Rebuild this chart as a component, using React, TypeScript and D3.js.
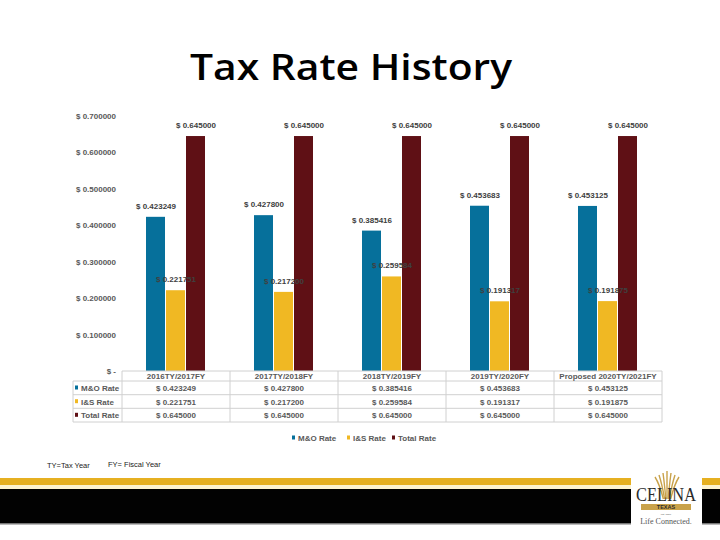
import * as d3 from "d3";
import { useEffect, useRef } from "react";

const categories = ["2016TY/2017FY", "2017TY/2018FY", "2018TY/2019FY", "2019TY/2020FY", "Proposed 2020TY/2021FY"];
const seriesNames = ["M&O Rate", "I&S Rate", "Total Rate"];
const moRate = [0.423249, 0.4278, 0.385416, 0.453683, 0.453125];
const isRate = [0.221751, 0.2172, 0.259584, 0.191317, 0.191875];
const totalRate = [0.645, 0.645, 0.645, 0.645, 0.645];
const yTicks = [0, 0.1, 0.2, 0.3, 0.4, 0.5, 0.6, 0.7];
const colors = ["#06709b", "#f0b823", "#5f1015"];

const fmt = (v: number) => (v === 0 ? "$ -" : "$ " + v.toFixed(6));

export default function App() {
  const ref = useRef<SVGSVGElement>(null);

  useEffect(() => {
    const svg = d3.select(ref.current);
    svg.selectAll("*").remove();
    const series = [moRate, isRate, totalRate];
    const font = "'Liberation Sans', Arial, sans-serif";
    const gray = "#595959";

    // title
    svg.append("text")
      .attr("x", 351).attr("y", 80)
      .attr("text-anchor", "middle")
      .attr("font-family", "'Open Sans', sans-serif")
      .attr("font-weight", 600)
      .attr("font-size", 36)
      .attr("textLength", 322)
      .attr("lengthAdjust", "spacingAndGlyphs")
      .text("Tax Rate History");

    const x = d3.scaleBand().domain(categories).range([122, 662]);
    const xs = d3.scaleBand().domain(seriesNames).range([24, 84]);
    const y = d3.scaleLinear().domain([0, 0.7]).range([371, 116]);

    // y axis labels
    svg.append("g").selectAll("text").data(yTicks).join("text")
      .attr("x", 116).attr("y", d => y(d) + 3)
      .attr("text-anchor", "end")
      .attr("font-family", font).attr("font-weight", 700)
      .attr("font-size", 8).attr("fill", gray)
      .text(d => fmt(d));

    // bars
    const g = svg.append("g");
    series.forEach((vals, si) => {
      g.append("g").selectAll("rect").data(vals).join("rect")
        .attr("x", (d, i) => x(categories[i])! + xs(seriesNames[si])!)
        .attr("y", d => y(d))
        .attr("width", xs.bandwidth() - 1)
        .attr("height", d => y(0) - y(d))
        .attr("fill", colors[si]);
    });
    // data labels
    series.forEach((vals, si) => {
      g.append("g").selectAll("text").data(vals).join("text")
        .attr("x", (d, i) => x(categories[i])! + xs(seriesNames[si])! + xs.bandwidth() / 2)
        .attr("y", d => y(d) - 8)
        .attr("text-anchor", "middle")
        .attr("font-family", font).attr("font-weight", 700)
        .attr("font-size", 8).attr("fill", "#404040")
        .text(d => fmt(d));
    });

    // data table
    const rowTop = [371, 381, 394.7, 408.3, 422];
    const line = "#d0d0d0";
    const t = svg.append("g");
    t.append("line").attr("x1", 122).attr("x2", 662).attr("y1", rowTop[0]).attr("y2", rowTop[0]).attr("stroke", line);
    rowTop.slice(1).forEach(ry => {
      t.append("line").attr("x1", 73).attr("x2", 662).attr("y1", ry).attr("y2", ry).attr("stroke", line);
    });
    [...categories.map(c => x(c)!), 662].forEach(vx => {
      t.append("line").attr("x1", vx).attr("x2", vx).attr("y1", 371).attr("y2", 422).attr("stroke", line);
    });
    t.append("line").attr("x1", 73).attr("x2", 73).attr("y1", 381).attr("y2", 422).attr("stroke", line);

    t.selectAll("text.hdr").data(categories).join("text")
      .attr("class", "hdr")
      .attr("x", d => x(d)! + x.bandwidth() / 2).attr("y", 378.5)
      .attr("text-anchor", "middle")
      .attr("font-family", font).attr("font-weight", 700)
      .attr("font-size", 8).attr("fill", gray)
      .text(d => d);

    series.forEach((vals, si) => {
      const by = rowTop[si + 1] + 10;
      t.append("rect").attr("x", 75).attr("y", by - 5.5).attr("width", 3).attr("height", 4).attr("fill", colors[si]);
      t.append("text").attr("x", 81).attr("y", by)
        .attr("font-family", font).attr("font-weight", 700)
        .attr("font-size", 8).attr("fill", gray)
        .text(seriesNames[si]);
      t.append("g").selectAll("text").data(vals).join("text")
        .attr("x", (d, i) => x(categories[i])! + x.bandwidth() / 2).attr("y", by)
        .attr("text-anchor", "middle")
        .attr("font-family", font).attr("font-weight", 700)
        .attr("font-size", 8).attr("fill", gray)
        .text(d => fmt(d));
    });

    // legend
    const legX = [292, 347, 392];
    const leg = svg.append("g");
    seriesNames.forEach((name, si) => {
      leg.append("rect").attr("x", legX[si]).attr("y", 435.5).attr("width", 3).attr("height", 4).attr("fill", colors[si]);
      leg.append("text").attr("x", legX[si] + 6).attr("y", 440.5)
        .attr("font-family", font).attr("font-weight", 700)
        .attr("font-size", 8).attr("fill", gray)
        .text(name);
    });

    // footnotes
    svg.append("text").attr("x", 47).attr("y", 468).attr("font-family", font)
      .attr("font-size", 7.5).attr("fill", "#222").text("TY=Tax Year");
    svg.append("text").attr("x", 108).attr("y", 467).attr("font-family", font)
      .attr("font-size", 7.5).attr("fill", "#222").text("FY= Fiscal Year");

    // footer bands
    svg.append("rect").attr("x", 0).attr("y", 478).attr("width", 720).attr("height", 7).attr("fill", "#e6b021");
    svg.append("rect").attr("x", 0).attr("y", 485).attr("width", 720).attr("height", 4).attr("fill", "#fdf3cf");
    svg.append("rect").attr("x", 0).attr("y", 489).attr("width", 720).attr("height", 34).attr("fill", "#020202");
    svg.append("rect").attr("x", 0).attr("y", 523).attr("width", 720).attr("height", 1.5).attr("fill", "#777");

    // logo
    const logo = svg.append("g");
    logo.append("rect").attr("x", 631).attr("y", 470).attr("width", 71).attr("height", 57).attr("fill", "#fff");
    d3.range(-3, 4).forEach(k => {
      logo.append("path")
        .attr("d", `M${667 + k * 1.2},499 Q${667 + k * 2.5},484 ${667 + k * 4},${471 + Math.abs(k) * 2}`)
        .attr("fill", "none").attr("stroke", "#c9a24a").attr("stroke-width", 1.4);
    });
    logo.append("text").attr("x", 666).attr("y", 501).attr("text-anchor", "middle")
      .attr("font-family", "'Liberation Serif', serif").attr("font-size", 18)
      .attr("fill", "#2b2b2b").attr("textLength", 60).attr("lengthAdjust", "spacingAndGlyphs").text("CELINA");
    logo.append("rect").attr("x", 641).attr("y", 504).attr("width", 50).attr("height", 6).attr("fill", "#c9a24a");
    logo.append("text").attr("x", 666).attr("y", 509.3).attr("text-anchor", "middle")
      .attr("font-family", font).attr("font-weight", 700).attr("font-size", 5.5).attr("fill", "#2b2b2b").text("TEXAS");
    logo.append("text").attr("x", 666).attr("y", 514.5).attr("text-anchor", "middle")
      .attr("font-family", font).attr("font-size", 2.5).attr("fill", "#555").text("est. 1876");
    logo.append("text").attr("x", 666).attr("y", 523.5).attr("text-anchor", "middle")
      .attr("font-family", "'Liberation Serif', serif").attr("font-size", 8)
      .attr("fill", "#555").text("Life Connected.");
  }, []);

  return (
    <div style={{ position: "absolute", left: 0, top: 0 }}>
      <svg ref={ref} width={720} height={540} style={{ display: "block", background: "#fff" }} />
    </div>
  );
}
